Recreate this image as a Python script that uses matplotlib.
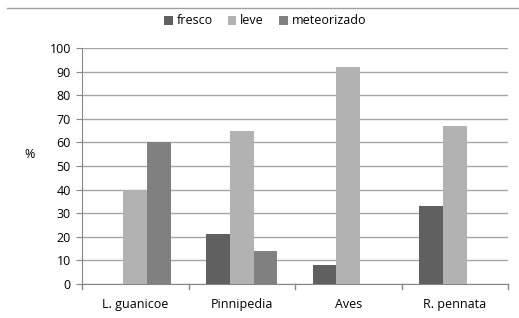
import matplotlib
matplotlib.use("Agg")
import matplotlib.pyplot as plt
import numpy as np

categories = ["L. guanicoe", "Pinnipedia", "Aves", "R. pennata"]
series_names = ["fresco", "leve", "meteorizado"]
fresco = [0, 21, 8, 33]
leve = [40, 65, 92, 67]
meteorizado = [60, 14, 0, 0]
colors = ["#606060", "#b2b2b2", "#808080"]

plt.rcParams['font.family'] = ['Open Sans', 'DejaVu Sans']

fig = plt.figure(figsize=(5.19, 3.18), dpi=100)
ax = fig.add_axes([82/519, 1-284/318, 426/519, 236/318])

x = np.arange(len(categories))
w = 0.222
for i, (vals, name, c) in enumerate(zip([fresco, leve, meteorizado], series_names, colors)):
    ax.bar(x + (i-1)*w, vals, width=w, color=c, label=name, zorder=3)

ax.set_xlim(-0.5, len(categories)-0.5)
ax.set_ylim(0, 100)
ax.set_yticks(range(0, 101, 10))
ax.yaxis.grid(True, color="#a6a6a6", linewidth=1, zorder=0)
ax.set_xticks(x)
ax.set_xticklabels(categories, fontsize=9)
ax.tick_params(axis='x', length=0, pad=10)
ax.tick_params(axis='y', labelsize=9, length=4, color="#868686", pad=4)
for b in np.arange(-0.5, len(categories), 1.0):
    ax.plot([b, b], [0, -2], color="#868686", lw=1, clip_on=False, zorder=4)
for s in ["top", "right"]:
    ax.spines[s].set_visible(False)
ax.spines["left"].set_color("#868686")
ax.spines["bottom"].set_color("#868686")

fig.text(30/519, 1-155/318, "%", fontsize=9, ha="center", va="center")

fig.legend(loc="center", bbox_to_anchor=(265/519, 1-21/318), ncol=3, frameon=False,
           fontsize=9, handlelength=0.7, handleheight=0.7, handletextpad=0.3, columnspacing=1.2)

fig.add_artist(plt.Line2D([7/519, 1], [1-8/318, 1-8/318], color="#a0a0a0", lw=1))

fig.savefig("out.png", dpi=100)
